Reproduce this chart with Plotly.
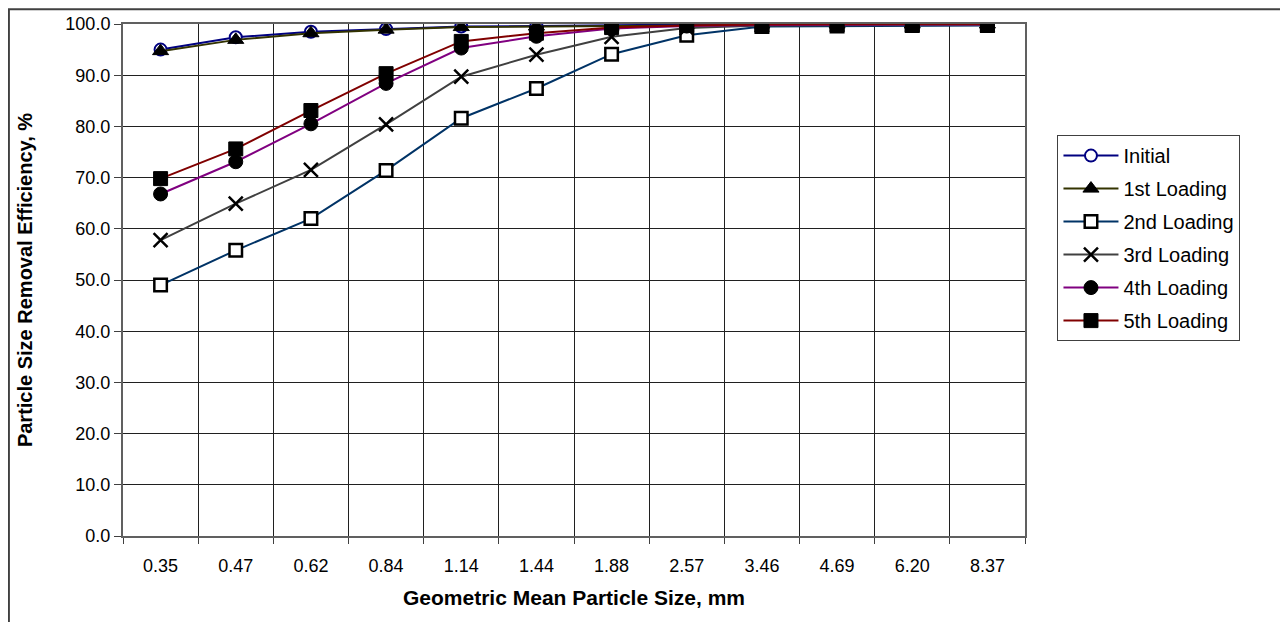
import plotly.graph_objects as go

sizes = ["0.35", "0.47", "0.62", "0.84", "1.14", "1.44", "1.88", "2.57", "3.46", "4.69", "6.20", "8.37"]

initial = [95.0, 97.4, 98.5, 99.0, 99.5, 99.6, 99.8, 99.9, 100.0, 100.0, 100.0, 100.0]
loading1 = [94.7, 96.9, 98.2, 98.9, 99.4, 99.5, 99.7, 99.8, 99.9, 99.9, 99.9, 99.9]
loading2 = [49.0, 55.8, 62.0, 71.4, 81.6, 87.4, 94.1, 97.8, 99.5, 99.6, 99.7, 99.7]
loading3 = [57.8, 64.9, 71.5, 80.4, 89.7, 94.0, 97.5, 99.2, 99.7, 99.8, 99.8, 99.8]
loading4 = [66.8, 73.1, 80.5, 88.4, 95.3, 97.6, 99.1, 99.6, 99.8, 99.9, 99.9, 99.9]
loading5 = [69.8, 75.6, 83.1, 90.3, 96.6, 98.2, 99.3, 99.7, 99.9, 100.0, 100.0, 100.0]

names = ["Initial", "1st Loading", "2nd Loading", "3rd Loading", "4th Loading", "5th Loading"]
series = [initial, loading1, loading2, loading3, loading4, loading5]
line_colors = ["#000080", "#333300", "#003366", "#404040", "#800080", "#800000"]

markers = [
    dict(symbol="circle", size=12, color="white", line=dict(color="#000080", width=2)),
    dict(symbol="triangle-up", size=14, color="black", line=dict(color="black", width=1)),
    dict(symbol="square", size=12.5, color="white", line=dict(color="black", width=2.5)),
    dict(symbol="x-thin", size=14, color="black", line=dict(color="black", width=2.5)),
    dict(symbol="circle", size=14, color="black", line=dict(color="black", width=1)),
    dict(symbol="square", size=14, color="black", line=dict(color="black", width=1)),
]

fig = go.Figure()
for i, (nm, vals) in enumerate(zip(names, series)):
    fig.add_trace(go.Scatter(
        x=sizes, y=vals, name=nm, mode="lines+markers",
        line=dict(color=line_colors[i], width=2),
        marker=markers[i], legendgroup="g%d" % i,
    ))

font_main = "Liberation Sans, Arial, sans-serif"

fig.update_layout(
    width=1288, height=622,
    margin=dict(l=115, r=271, t=16, b=94, autoexpand=False),
    paper_bgcolor="white", plot_bgcolor="white",
    font=dict(family=font_main, size=16, color="black"),
    showlegend=True,
    legend=dict(
        x=1.036, y=0.783, xanchor="left", yanchor="top",
        bordercolor="#404040", borderwidth=1, bgcolor="white",
        font=dict(family=font_main, size=20, color="black"),
        tracegroupgap=4, itemwidth=55,
    ),
    xaxis=dict(
        type="category", tickson="boundaries", automargin=False,
        showgrid=True, gridcolor="#202020", gridwidth=1,
        ticks="outside", ticklen=6, tickcolor="#404040",
        showline=True, linecolor="#606060", linewidth=2, mirror=True,
        tickfont=dict(family=font_main, size=18),
        ticklabelstandoff=12,
        title=dict(text="<b>Geometric Mean Particle Size, mm</b>",
                   font=dict(family=font_main, size=21), standoff=16),
        range=[-0.5, 11.5],
    ),
    yaxis=dict(
        range=[0, 100], dtick=10, tickformat=".1f", automargin=False,
        showgrid=True, gridcolor="#202020", gridwidth=1,
        ticks="outside", ticklen=7, tickcolor="#404040",
        showline=True, linecolor="#606060", linewidth=2, mirror=True,
        tickfont=dict(family=font_main, size=18),
        title=dict(text="<b>Particle Size Removal Efficiency, %</b>",
                   font=dict(family=font_main, size=20), standoff=27),
        zeroline=False,
    ),
    shapes=[
        dict(type="rect", xref="paper", yref="paper",
             x0=-0.1265, x1=1.4, y0=-0.3, y1=1.029,
             line=dict(color="#404040", width=2), fillcolor="rgba(0,0,0,0)",
             layer="below"),
    ],
)

fig.write_html("out.html")
